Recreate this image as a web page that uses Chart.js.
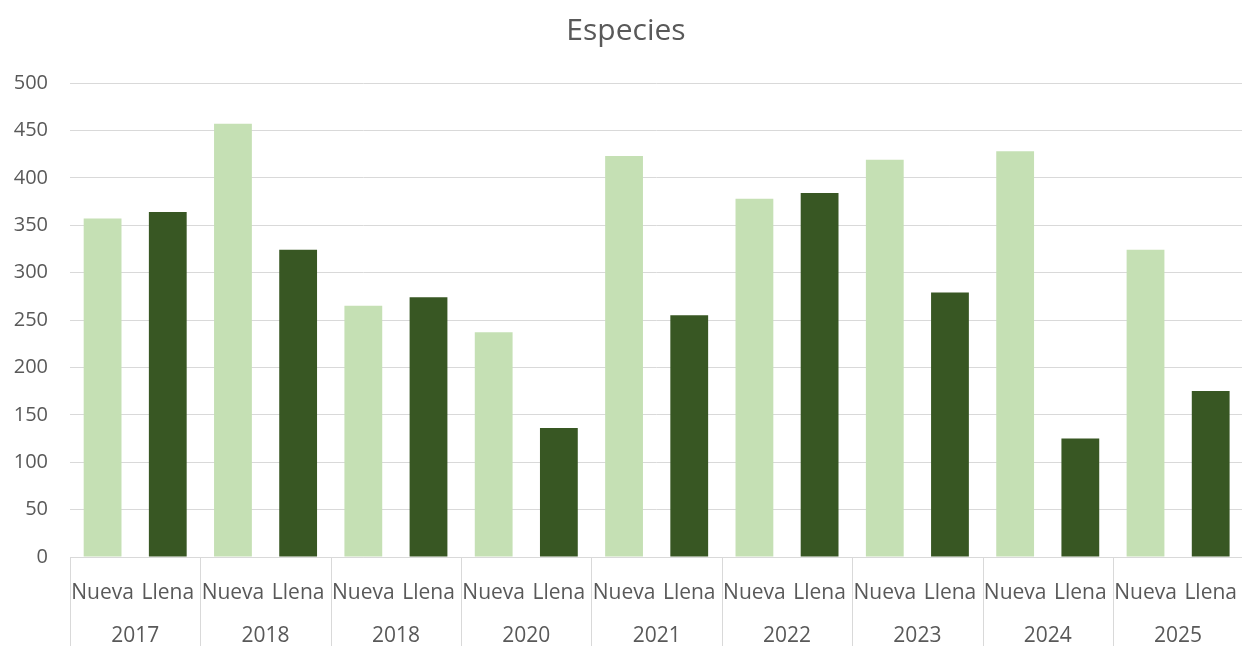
<!DOCTYPE html>
<html>
<head>
<meta charset="utf-8">
<script src="https://cdn.jsdelivr.net/npm/chart.js@4/dist/chart.umd.min.js"></script>
<style>
    html, body { margin: 0; padding: 0; background: #fff; overflow: hidden; }
    #wrap { width: 1252px; height: 646px; }
    #myChart { width: 1252px; height: 646px; }
</style>
</head>
<body>
<div id="wrap"><canvas id="myChart" width="1252" height="646"></canvas></div>
<script>
// datos
const years = ['2017', '2018', '2018', '2020', '2021', '2022', '2023', '2024', '2025'];
const seriesNames = ['Nueva', 'Llena'];
const nueva = [357, 457, 265, 237, 423, 378, 419, 428, 324];
const llena = [364, 324, 274, 136, 255, 384, 279, 125, 175];
const yTicks = [0, 50, 100, 150, 200, 250, 300, 350, 400, 450, 500];

const colorNueva = '#C5E0B4';
const colorLlena = '#385723';
const textColor = '#595959';
const gridColor = '#D9D9D9';
const font = "'Open Sans', 'Noto Sans', sans-serif";

// una categoría por barra (Nueva / Llena de cada año)
const labels = [];
const values = [];
const colors = [];
years.forEach((y, i) => {
    labels.push(seriesNames[0], seriesNames[1]);
    values.push(nueva[i], llena[i]);
    colors.push(colorNueva, colorLlena);
});

// líneas separadoras entre años, debajo del eje
const yearSeparators = {
    id: 'yearSeparators',
    afterDraw(chart) {
        const x = chart.scales.x;
        const ctx = chart.ctx;
        const step = x.width / labels.length;
        ctx.save();
        ctx.strokeStyle = gridColor;
        ctx.lineWidth = 1;
        for (let g = 0; g <= years.length; g++) {
            const px = Math.round(x.getPixelForValue(g * 2) - step / 2) + 0.5;
            ctx.beginPath();
            ctx.moveTo(px, chart.chartArea.bottom);
            ctx.lineTo(px, chart.height);
            ctx.stroke();
        }
        ctx.restore();
    }
};

new Chart(document.getElementById('myChart'), {
    type: 'bar',
    data: {
        labels: labels,
        datasets: [{
            label: 'Especies',
            data: values,
            backgroundColor: colors,
            barPercentage: 0.58,
            categoryPercentage: 1.0
        }]
    },
    options: {
        responsive: false,
        animation: false,
        layout: { padding: { left: 0, right: 0, top: 0, bottom: 0 } },
        plugins: {
            legend: { display: false },
            tooltip: { enabled: false },
            title: {
                display: true,
                text: 'Especies',
                color: textColor,
                font: { family: font, size: 30, weight: 'normal' },
                padding: { top: 13, bottom: 34 }
            }
        },
        scales: {
            y: {
                min: 0,
                max: 500,
                afterBuildTicks: (axis) => { axis.ticks = yTicks.map(v => ({ value: v })); },
                afterFit: (axis) => { axis.width = 70; },
                grid: { color: gridColor, drawTicks: false },
                border: { display: false },
                ticks: {
                    color: textColor,
                    font: { family: font, size: 20 },
                    padding: 22
                }
            },
            x: {
                grid: { display: false },
                border: { display: true, color: gridColor },
                afterFit: (axis) => { axis.height = 55; },
                ticks: {
                    color: textColor,
                    font: { family: font, size: 21 },
                    autoSkip: false,
                    maxRotation: 0,
                    padding: 15
                }
            },
            x2: {
                type: 'category',
                position: 'bottom',
                labels: years,
                offset: true,
                grid: { display: false, drawTicks: false },
                border: { display: false },
                afterFit: (axis) => { axis.height = 34; },
                ticks: {
                    color: textColor,
                    font: { family: font, size: 21 },
                    autoSkip: false,
                    maxRotation: 0,
                    padding: 11
                }
            }
        }
    },
    plugins: [yearSeparators]
});
</script>
</body>
</html>
